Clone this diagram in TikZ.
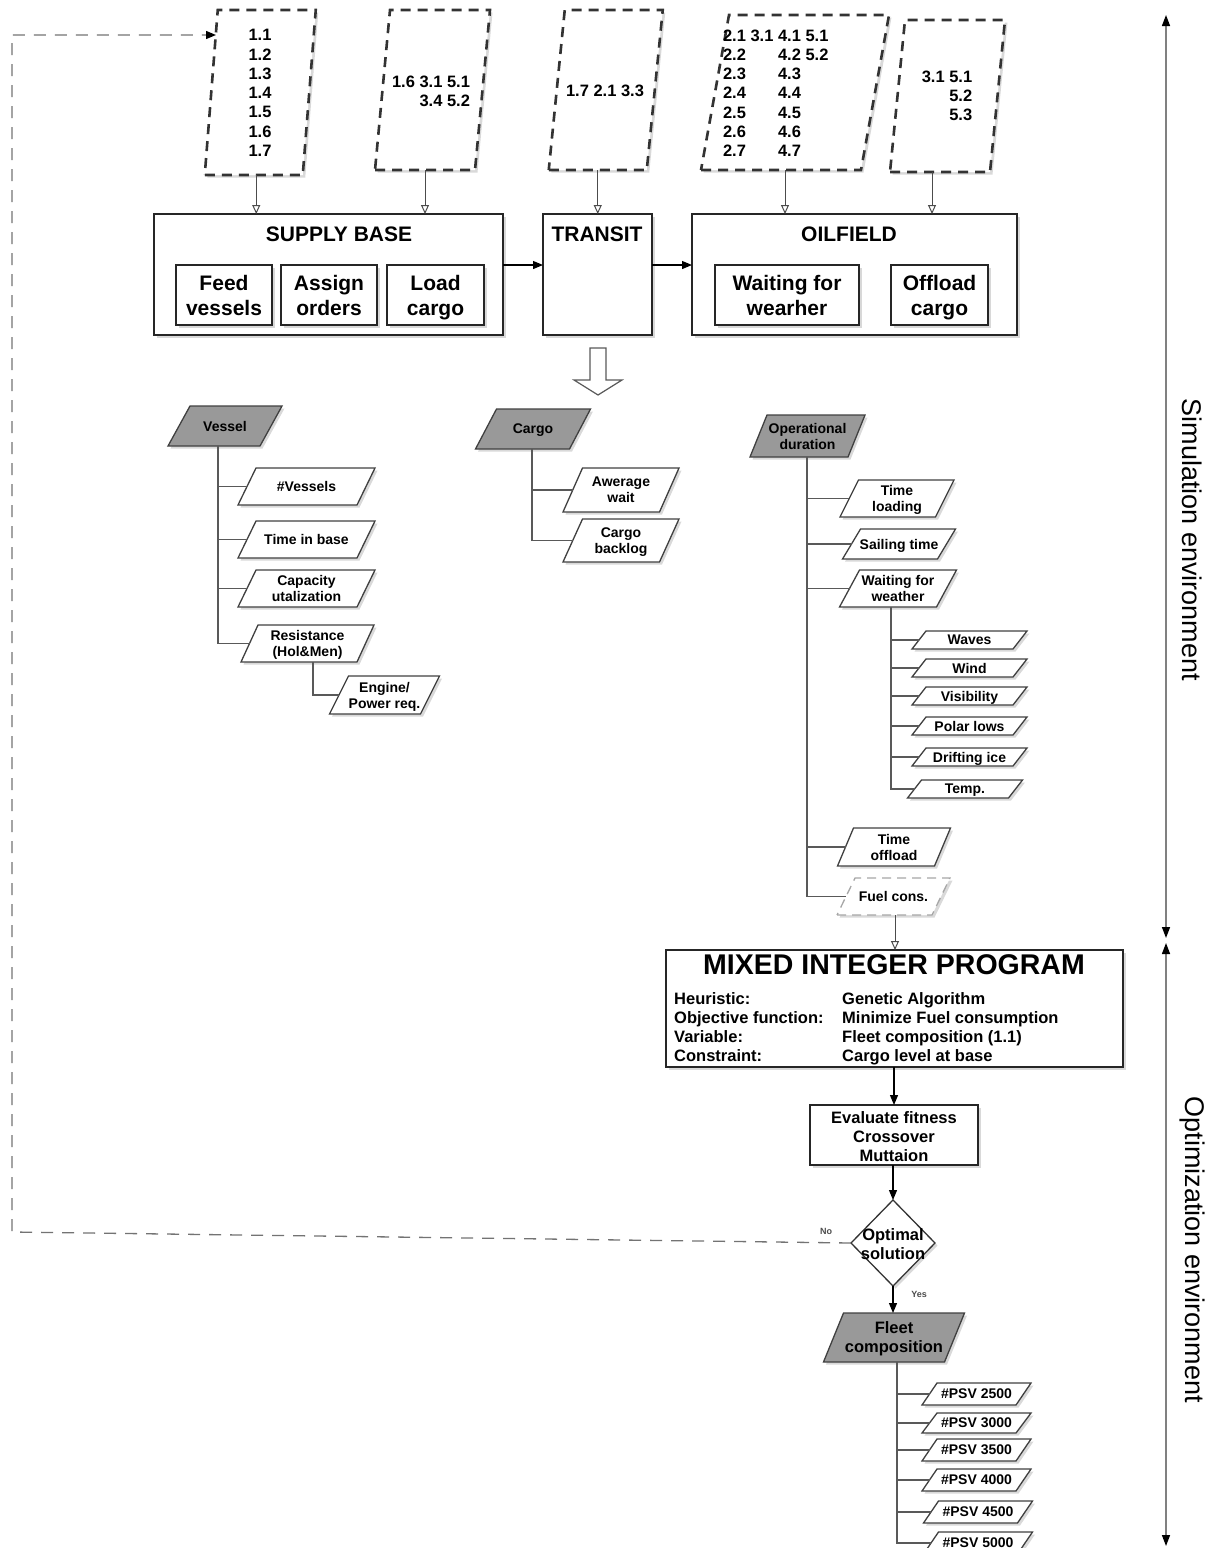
\documentclass[tikz,border=0pt]{standalone}
\usepackage{fontspec}
\setmainfont{Liberation Sans}
\usetikzlibrary{arrows.meta,shapes.geometric,shadows,calc}

% font sizes used in the chart
\newcommand\fnum{\bfseries\fontsize{16.5}{19.3}\selectfont}
\newcommand\fbig{\bfseries\fontsize{21}{25}\selectfont}
\newcommand\fleaf{\bfseries\fontsize{14}{16}\selectfont}
\newcommand\fmid{\bfseries\fontsize{16.5}{19}\selectfont}
\newcommand\fmip{\bfseries\fontsize{28.5}{32}\selectfont}
\newcommand\fenv{\fontsize{27}{30}\selectfont}
\newcommand\ftiny{\bfseries\fontsize{9}{10}\selectfont}

% parallelogram: #1 outline style, #2 label style, #3 name, #4 cx, #5 cy,
% #6 side length, #7 height, #8 slant, #9 label
\newcommand\pgram[9]{%
  \path[#1] ({#4-#6/2-#8/2},{#5+#7/2}) -- ({#4+#6/2-#8/2},{#5+#7/2})
     -- ({#4+#6/2+#8/2},{#5-#7/2}) -- ({#4-#6/2+#8/2},{#5-#7/2}) -- cycle;
  \node[#2, minimum width=#6, minimum height=#7] (#3) at (#4,#5) {#9};}

\begin{document}
\begin{tikzpicture}[x=1pt,y=-1pt,
  softshadow/.style={drop shadow={shadow xshift=2.5pt,shadow yshift=-2.5pt,opacity=0.3}},
  topshape/.style={draw=black!80, line width=2.6pt, dash pattern=on 10pt off 7pt, fill=white, softshadow},
  hdrshape/.style={draw=black!75, line width=1.3pt, fill=black!40, softshadow},
  leafshape/.style={draw=black!75, line width=1.3pt, fill=white, softshadow},
  fuelshape/.style={draw=black!35, line width=1.3pt, dash pattern=on 9pt off 6pt, fill=white, softshadow},
  lbl/.style={inner sep=0pt, outer sep=0pt, align=center, text depth=0pt, font=\fleaf},
  lblmid/.style={inner sep=0pt, outer sep=0pt, align=center, text depth=0pt, font=\fmid},
  numtxt/.style={inner sep=0pt, outer sep=0pt, font=\fnum},
  bigbox/.style={draw=black!85, line width=1.8pt, fill=white, softshadow, inner sep=0pt, outer sep=0pt},
  inbox/.style={draw=black!85, line width=2.2pt, fill=white, softshadow, inner sep=0pt, outer sep=0pt, align=center, text depth=0pt, font=\fbig},
  ttl/.style={inner sep=0pt, font=\fbig},
  treeline/.style={draw=black!65, line width=1.3pt},
  oarr/.style={draw=black!70, line width=1pt, -{Triangle[open,length=9pt,width=8pt,fill=white]}},
  farr/.style={draw=black, line width=1.2pt, -{Triangle[length=10pt,width=8pt]}},
  fback/.style={draw=black!55, line width=1.3pt, dash pattern=on 12pt off 9pt, -{Triangle[length=10pt,width=8pt,color=black]}},
  envline/.style={draw=black!50, line width=1.4pt, {Triangle[length=11pt,width=8pt,color=black]}-{Triangle[length=11pt,width=8pt,color=black]}}
]
\useasboundingbox (0,0) rectangle (1214,1548);

% ---------- input data sheets ----------
\pgram{topshape}{numtxt}{pa}{260.25}{92.5}{98}{165}{13}{}
\pgram{topshape}{numtxt}{pb}{432.5}{90}{100}{160}{15}{}
\pgram{topshape}{numtxt}{pc}{605.75}{90}{98}{160}{16}{}
\pgram{topshape}{numtxt}{pd}{795}{92.5}{160}{155}{28}{}
\pgram{topshape}{numtxt}{pe}{947.5}{96}{100}{152}{15}{}

\node[numtxt, align=center] (pat) at (260,93) {1.1\\1.2\\1.3\\1.4\\1.5\\1.6\\1.7};
\node[numtxt, align=right] (pbt) at (431,91.5) {1.6 3.1 5.1\\3.4 5.2};
\node[numtxt] (pct) at (605,91) {1.7 2.1 3.3};
\node[numtxt, anchor=base west] (pdt) at (723,41) {\begin{tabular}[t]{@{}l@{\ }l@{\ }l@{\ }l@{}}
2.1 & 3.1 & 4.1 & 5.1\\ 2.2 & & 4.2 & 5.2\\ 2.3 & & 4.3 & \\ 2.4 & & 4.4 & \\
2.5 & & 4.5 & \\ 2.6 & & 4.6 & \\ 2.7 & & 4.7 &
\end{tabular}};
\node[numtxt, align=right] (pet) at (947,96) {3.1 5.1\\5.2\\5.3};

% ---------- process stages ----------
\node[bigbox, minimum width=349, minimum height=121] (sb) at (328.5,274.5) {};
\node[ttl] (sbt) at (339,234) {SUPPLY BASE};
\node[inbox, minimum width=96, minimum height=60] (feed) at (224,295) {Feed\\vessels};
\node[inbox, minimum width=96, minimum height=60] (assign) at (329,295) {Assign\\orders};
\node[inbox, minimum width=97, minimum height=60] (load) at (435.5,295) {Load\\cargo};

\node[bigbox, minimum width=109, minimum height=121] (tr) at (597.5,274.5) {};
\node[ttl] (trt) at (597,234) {TRANSIT};

\node[bigbox, minimum width=325, minimum height=121] (of) at (854.5,274.5) {};
\node[ttl] (oft) at (849,234) {OILFIELD};
\node[inbox, minimum width=144, minimum height=60] (wait) at (787,295) {Waiting for\\wearher};
\node[inbox, minimum width=97, minimum height=60] (offl) at (939.5,295) {Offload\\cargo};

\draw[oarr] ([xshift=-4pt]pa.south) -- ([xshift=-4pt]pa.south |- sb.north);
\draw[oarr] ([xshift=-7.5pt]pb.south) -- ([xshift=-7.5pt]pb.south |- sb.north);
\draw[oarr] ([xshift=-8pt]pc.south) -- ([xshift=-8pt]pc.south |- tr.north);
\draw[oarr] ([xshift=-10pt]pd.south) -- ([xshift=-10pt]pd.south |- of.north);
\draw[oarr] ([xshift=-15.5pt]pe.south) -- ([xshift=-15.5pt]pe.south |- of.north);

\draw[farr] ([yshift=9.5pt]sb.east) -- ([yshift=9.5pt]tr.west);
\draw[farr] ([yshift=9.5pt]tr.east) -- ([yshift=9.5pt]of.west);

% hollow block arrow below the transit stage
\draw[draw=black!65, line width=1.2pt, fill=white]
  (590,348) -- (606,348) -- (606,380) -- (622,380) -- (598,395) -- (574,380) -- (590,380) -- cycle;

% ---------- vessel tree ----------
\pgram{hdrshape}{lbl}{vessel}{225}{426}{92}{40}{22}{Vessel}
\pgram{leafshape}{lbl}{nves}{306.5}{486.5}{119}{37}{18}{\#Vessels}
\pgram{leafshape}{lbl}{tib}{306.5}{539.5}{119}{37}{18}{Time in base}
\pgram{leafshape}{lbl}{cap}{306.5}{588.5}{119}{37}{18}{Capacity\\utalization}
\pgram{leafshape}{lbl}{resist}{307.5}{643.5}{116}{37}{17}{Resistance\\(Hol\&Men)}
\pgram{leafshape}{lbl}{engine}{384.5}{695}{91}{38}{19}{Engine/\\Power req.}

\coordinate (vtrunk) at ([xshift=-7pt]vessel.south);
\draw[treeline] (vtrunk) |- (resist.west);
\foreach \n in {nves,tib,cap} \draw[treeline] (vtrunk |- \n.west) -- (\n.west);
\draw[treeline] ([xshift=5.5pt]resist.south) |- (engine.west);

% ---------- cargo tree ----------
\pgram{hdrshape}{lbl}{cargo}{533}{429}{94}{40}{21}{Cargo}
\pgram{leafshape}{lbl}{avgwait}{621}{490}{96.5}{44}{19.5}{Awerage\\wait}
\pgram{leafshape}{lbl}{backlog}{621}{540.5}{96.5}{43}{19.5}{Cargo\\backlog}

\coordinate (ctrunk) at ([xshift=-1pt]cargo.south);
\draw[treeline] (ctrunk) |- (backlog.west);
\draw[treeline] (ctrunk |- avgwait.west) -- (avgwait.west);

% ---------- operational duration tree ----------
\pgram{hdrshape}{lbl}{opdur}{807.5}{436}{98}{42}{17}{Operational\\duration}
\pgram{leafshape}{lbl}{tload}{897}{498.5}{95.5}{37}{18.5}{Time\\loading}
\pgram{leafshape}{lbl}{sail}{899}{544}{95}{30}{18}{Sailing time}
\pgram{leafshape}{lbl}{wfw}{898}{588.5}{97}{37}{20}{Waiting for\\weather}
\pgram{leafshape}{lbl}{waves}{969.5}{640}{101}{18}{14}{Waves}
\pgram{leafshape}{lbl}{wind}{969.5}{668}{101}{18}{14}{Wind}
\pgram{leafshape}{lbl}{vis}{969.5}{696}{101}{18}{14}{Visibility}
\pgram{leafshape}{lbl}{polar}{969.5}{726}{101}{18}{14}{Polar lows}
\pgram{leafshape}{lbl}{drift}{969.5}{757}{101}{18}{14}{Drifting ice}
\pgram{leafshape}{lbl}{temp}{965}{789}{101}{18}{14}{Temp.}
\pgram{leafshape}{lbl}{toff}{894}{847}{97}{38}{16}{Time\\offload}
\pgram{fuelshape}{lbl}{fuel}{893.5}{896.5}{95}{37}{18}{Fuel cons.}

\coordinate (otrunk) at ([xshift=-0.5pt]opdur.south);
\draw[treeline] (otrunk) |- (fuel.west);
\foreach \n in {tload,sail,wfw,toff} \draw[treeline] (otrunk |- \n.west) -- (\n.west);
\coordinate (wtrunk) at ([xshift=-7pt]wfw.south);
\draw[treeline] (wtrunk) |- (temp.west);
\foreach \n in {waves,wind,vis,polar,drift} \draw[treeline] (wtrunk |- \n.west) -- (\n.west);

% ---------- optimisation ----------
\node[bigbox, line width=2.3pt, minimum width=457, minimum height=117] (mip) at (894.5,1008.5) {};
\node[inner sep=0pt, font=\fmip] (mipt) at (894,965) {MIXED INTEGER PROGRAM};
\node[inner sep=0pt, font=\fmid, anchor=base west] (mipb) at (674,1004) {\begin{tabular}[t]{@{}p{168pt}@{}l@{}}
Heuristic: & Genetic Algorithm\\
Objective function: & Minimize Fuel consumption\\
Variable: & Fleet composition (1.1)\\
Constraint: & Cargo level at base
\end{tabular}};
\draw[oarr] ([xshift=1.5pt]fuel.south) -- ([xshift=1.5pt]fuel.south |- mip.north);

\node[bigbox, minimum width=168, minimum height=60] (evalb) at (894,1135) {};
\node[lblmid] (evalt) at (894,1137) {Evaluate fitness\\Crossover\\Muttaion};
\draw[farr] (evalb.north |- mip.south) -- (evalb.north);

\node[diamond, draw=black!80, line width=1.3pt, fill=white, softshadow, minimum width=84, minimum height=86, inner sep=0pt, outer sep=0pt] (opt) at (893,1243) {};
\node[lblmid] (optt) at (893,1244.5) {Optimal\\solution};
\draw[farr] (opt.north |- evalb.south) -- (opt.north);

\coordinate (fb1) at (12,1232);
\coordinate (fb2) at (12,35);
\coordinate (fb3) at (216,35);
\draw[fback] (opt.west) -- (fb1) -- (fb2) -- (fb3);
\node[font=\ftiny, text=black!70, inner sep=0pt] (nolbl) at (826,1231) {No};

\pgram{hdrshape}{lblmid}{fleet}{894}{1337.5}{121}{49}{20}{Fleet\\composition}
\draw[farr] (opt.south) -- (opt.south |- fleet.north);
\node[font=\ftiny, text=black!70, inner sep=0pt] (yeslbl) at (919,1294) {Yes};

\pgram{leafshape}{lbl}{psva}{976.5}{1394}{94}{22}{15}{\#PSV 2500}
\pgram{leafshape}{lbl}{psvb}{976.5}{1423}{94}{20}{15}{\#PSV 3000}
\pgram{leafshape}{lbl}{psvc}{976.5}{1450}{94}{22}{15}{\#PSV 3500}
\pgram{leafshape}{lbl}{psvd}{976.5}{1480}{94}{22}{15}{\#PSV 4000}
\pgram{leafshape}{lbl}{psve}{978}{1512}{94}{22}{15}{\#PSV 4500}
\pgram{leafshape}{lbl}{psvf}{978}{1543}{94}{22}{15}{\#PSV 5000}

\coordinate (ftrunk) at ([xshift=3pt]fleet.south);
\draw[treeline] (ftrunk) |- (psvf.west);
\foreach \n in {psva,psvb,psvc,psvd,psve} \draw[treeline] (ftrunk |- \n.west) -- (\n.west);

% ---------- environment ranges ----------
\coordinate (s1) at (1166,15);
\coordinate (s2) at (1166,938);
\coordinate (o1) at (1166,943);
\coordinate (o2) at (1166,1546);
\draw[envline] (s1) -- (s2);
\draw[envline] (o1) -- (o2);
\node[font=\fenv, rotate=-90, inner sep=0pt] (simlbl) at (1192,540) {Simulation environment};
\node[font=\fenv, rotate=-90, inner sep=0pt] (optlbl) at (1192,1250) {Optimization environment};
\end{tikzpicture}
\end{document}
